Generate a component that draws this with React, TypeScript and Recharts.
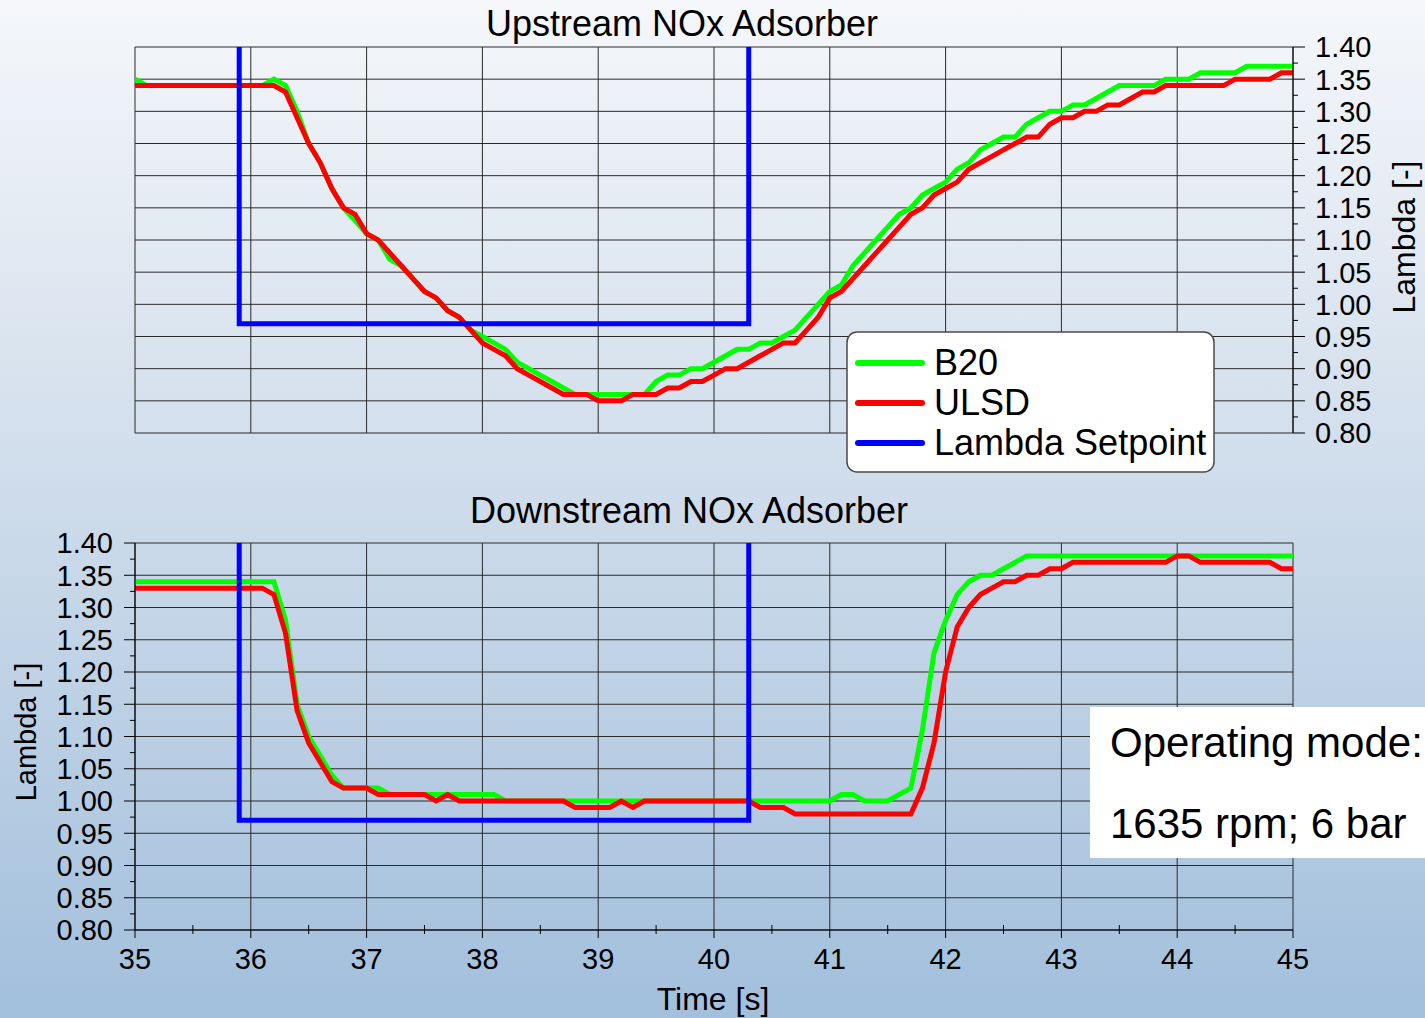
import { LineChart, Line, XAxis, YAxis, CartesianGrid } from 'recharts';

const FONT = '"Liberation Sans", Arial, sans-serif';

// logged lambda signals, one sample every 0.1 s from t = 35 s
const SAMPLE_START = 35;
const SAMPLE_STEP = 0.1;

const TIME_TICKS = ['35', '36', '37', '38', '39', '40', '41', '42', '43', '44', '45'];
const LAMBDA_TICKS = [
  '0.80', '0.85', '0.90', '0.95', '1.00', '1.05', '1.10',
  '1.15', '1.20', '1.25', '1.30', '1.35', '1.40',
];

// upstream adsorber
const UP_B20 = [
  1.35, 1.34, 1.34, 1.34, 1.34, 1.34, 1.34, 1.34, 1.34, 1.34,
  1.34, 1.34, 1.35, 1.34, 1.30, 1.25, 1.22, 1.18, 1.15, 1.13,
  1.11, 1.10, 1.07, 1.06, 1.04, 1.02, 1.01, 0.99, 0.98, 0.96,
  0.95, 0.94, 0.93, 0.91, 0.90, 0.89, 0.88, 0.87, 0.86, 0.86,
  0.86, 0.86, 0.86, 0.86, 0.86, 0.88, 0.89, 0.89, 0.90, 0.90,
  0.91, 0.92, 0.93, 0.93, 0.94, 0.94, 0.95, 0.96, 0.98, 1.00,
  1.02, 1.03, 1.06, 1.08, 1.10, 1.12, 1.14, 1.15, 1.17, 1.18,
  1.19, 1.21, 1.22, 1.24, 1.25, 1.26, 1.26, 1.28, 1.29, 1.30,
  1.30, 1.31, 1.31, 1.32, 1.33, 1.34, 1.34, 1.34, 1.34, 1.35,
  1.35, 1.35, 1.36, 1.36, 1.36, 1.36, 1.37, 1.37, 1.37, 1.37,
  1.37,
];
const UP_ULSD = [
  1.34, 1.34, 1.34, 1.34, 1.34, 1.34, 1.34, 1.34, 1.34, 1.34,
  1.34, 1.34, 1.34, 1.33, 1.29, 1.25, 1.22, 1.18, 1.15, 1.14,
  1.11, 1.10, 1.08, 1.06, 1.04, 1.02, 1.01, 0.99, 0.98, 0.96,
  0.94, 0.93, 0.92, 0.90, 0.89, 0.88, 0.87, 0.86, 0.86, 0.86,
  0.85, 0.85, 0.85, 0.86, 0.86, 0.86, 0.87, 0.87, 0.88, 0.88,
  0.89, 0.90, 0.90, 0.91, 0.92, 0.93, 0.94, 0.94, 0.96, 0.98,
  1.01, 1.02, 1.04, 1.06, 1.08, 1.10, 1.12, 1.14, 1.15, 1.17,
  1.18, 1.19, 1.21, 1.22, 1.23, 1.24, 1.25, 1.26, 1.26, 1.28,
  1.29, 1.29, 1.30, 1.30, 1.31, 1.31, 1.32, 1.33, 1.33, 1.34,
  1.34, 1.34, 1.34, 1.34, 1.34, 1.35, 1.35, 1.35, 1.35, 1.36,
  1.36,
];

// downstream adsorber
const DOWN_B20 = [
  1.34, 1.34, 1.34, 1.34, 1.34, 1.34, 1.34, 1.34, 1.34, 1.34,
  1.34, 1.34, 1.34, 1.28, 1.15, 1.10, 1.07, 1.04, 1.02, 1.02,
  1.02, 1.02, 1.01, 1.01, 1.01, 1.01, 1.01, 1.01, 1.01, 1.01,
  1.01, 1.01, 1.00, 1.00, 1.00, 1.00, 1.00, 1.00, 1.00, 1.00,
  1.00, 1.00, 1.00, 1.00, 1.00, 1.00, 1.00, 1.00, 1.00, 1.00,
  1.00, 1.00, 1.00, 1.00, 1.00, 1.00, 1.00, 1.00, 1.00, 1.00,
  1.00, 1.01, 1.01, 1.00, 1.00, 1.00, 1.01, 1.02, 1.11, 1.23,
  1.28, 1.32, 1.34, 1.35, 1.35, 1.36, 1.37, 1.38, 1.38, 1.38,
  1.38, 1.38, 1.38, 1.38, 1.38, 1.38, 1.38, 1.38, 1.38, 1.38,
  1.38, 1.38, 1.38, 1.38, 1.38, 1.38, 1.38, 1.38, 1.38, 1.38,
  1.38,
];
const DOWN_ULSD = [
  1.33, 1.33, 1.33, 1.33, 1.33, 1.33, 1.33, 1.33, 1.33, 1.33,
  1.33, 1.33, 1.32, 1.26, 1.14, 1.09, 1.06, 1.03, 1.02, 1.02,
  1.02, 1.01, 1.01, 1.01, 1.01, 1.01, 1.00, 1.01, 1.00, 1.00,
  1.00, 1.00, 1.00, 1.00, 1.00, 1.00, 1.00, 1.00, 0.99, 0.99,
  0.99, 0.99, 1.00, 0.99, 1.00, 1.00, 1.00, 1.00, 1.00, 1.00,
  1.00, 1.00, 1.00, 1.00, 0.99, 0.99, 0.99, 0.98, 0.98, 0.98,
  0.98, 0.98, 0.98, 0.98, 0.98, 0.98, 0.98, 0.98, 1.02, 1.09,
  1.20, 1.27, 1.30, 1.32, 1.33, 1.34, 1.34, 1.35, 1.35, 1.36,
  1.36, 1.37, 1.37, 1.37, 1.37, 1.37, 1.37, 1.37, 1.37, 1.37,
  1.38, 1.38, 1.37, 1.37, 1.37, 1.37, 1.37, 1.37, 1.37, 1.36,
  1.36,
];

// rich phase: setpoint drops to 0.97, lean level lies above the plotted range
const SETPOINT_TIME = [35.9, 35.9, 40.3, 40.3];
const SETPOINT_LAMBDA = [1.5, 0.97, 0.97, 1.5];

const SERIES = [
  { key: 'b20', name: 'B20', color: '#00ff00' },
  { key: 'ulsd', name: 'ULSD', color: '#ff0000' },
  { key: 'setpoint', name: 'Lambda Setpoint', color: '#0000ff' },
];

const TIME_MAJOR = TIME_TICKS.map(Number);
const TIME_ALL = TIME_MAJOR.flatMap((t, i) => (i < TIME_MAJOR.length - 1 ? [t, t + 0.5] : [t]));
const LAMBDA_MAJOR = LAMBDA_TICKS.map(Number);
const LAMBDA_ALL = LAMBDA_MAJOR.flatMap((v, i) =>
  i < LAMBDA_MAJOR.length - 1 ? [v, (v + LAMBDA_MAJOR[i + 1]) / 2] : [v],
);

const sampleTime = (i: number) => Math.round((SAMPLE_START + i * SAMPLE_STEP) * 10) / 10;

const upData = UP_B20.map((v, i) => ({ t: sampleTime(i), b20: v, ulsd: UP_ULSD[i] }));
const downData = DOWN_B20.map((v, i) => ({ t: sampleTime(i), b20: v, ulsd: DOWN_ULSD[i] }));
const setpointData = SETPOINT_TIME.map((t, i) => ({ t, setpoint: SETPOINT_LAMBDA[i] }));

const isMajor = (v: number, step: number) => Math.abs(v / step - Math.round(v / step)) < 1e-6;
const lambdaLabel = (v: number) => LAMBDA_TICKS[LAMBDA_MAJOR.findIndex((m) => Math.abs(m - v) < 1e-6)];
const timeLabel = (v: number) => TIME_TICKS[TIME_MAJOR.findIndex((m) => Math.abs(m - v) < 1e-6)];

function RightLambdaTick({ x, y, payload }: any) {
  const major = isMajor(payload.value, 0.05);
  return (
    <g>
      <line x1={x} x2={x + (major ? 12 : 5)} y1={y} y2={y} stroke="#000" strokeWidth={1} />
      {major && (
        <text x={x + 22} y={y} dy="0.36em" textAnchor="start" fontSize={29} fontFamily={FONT} fill="#000">
          {lambdaLabel(payload.value)}
        </text>
      )}
    </g>
  );
}

function LeftLambdaTick({ x, y, payload }: any) {
  const major = isMajor(payload.value, 0.05);
  return (
    <g>
      <line x1={x - (major ? 11 : 5)} x2={x} y1={y} y2={y} stroke="#000" strokeWidth={1} />
      {major && (
        <text x={x - 22} y={y} dy="0.36em" textAnchor="end" fontSize={29} fontFamily={FONT} fill="#000">
          {lambdaLabel(payload.value)}
        </text>
      )}
    </g>
  );
}

function TimeTick({ x, y, payload }: any) {
  const major = isMajor(payload.value, 1);
  return (
    <g>
      {major ? (
        <line x1={x} x2={x} y1={y} y2={y + 8} stroke="#000" strokeWidth={1} />
      ) : (
        <line x1={x} x2={x} y1={y - 5} y2={y + 4} stroke="#000" strokeWidth={1} />
      )}
      {major && (
        <text x={x} y={y + 39} textAnchor="middle" fontSize={29} fontFamily={FONT} fill="#000">
          {timeLabel(payload.value)}
        </text>
      )}
    </g>
  );
}

const GRID = '#2a2a2a';

function seriesLines() {
  return [
    <Line key="b20" dataKey="b20" type="linear" stroke={SERIES[0].color} strokeWidth={5}
      dot={false} activeDot={false} isAnimationActive={false} />,
    <Line key="ulsd" dataKey="ulsd" type="linear" stroke={SERIES[1].color} strokeWidth={5}
      dot={false} activeDot={false} isAnimationActive={false} />,
    <Line key="setpoint" data={setpointData} dataKey="setpoint" type="linear" stroke={SERIES[2].color}
      strokeWidth={5} dot={false} activeDot={false} isAnimationActive={false} />,
  ];
}

export default function App() {
  return (
    <div
      style={{
        position: 'absolute',
        left: 0,
        top: 0,
        width: 1425,
        height: 1018,
        overflow: 'hidden',
        background: 'linear-gradient(to bottom, #f5f7fa 0%, #cddbea 50%, #a2bfdc 100%)',
        fontFamily: FONT,
      }}
    >
      {/* upstream panel, lambda axis on the right */}
      <div style={{ position: 'absolute', left: 0, top: 0 }}>
        <LineChart width={1425} height={470} data={upData} margin={{ top: 47, right: 0, bottom: 37, left: 135 }}>
          <CartesianGrid horizontalValues={LAMBDA_MAJOR} verticalValues={TIME_MAJOR} stroke={GRID} strokeWidth={1} />
          <XAxis type="number" dataKey="t" domain={[35, 45]} ticks={TIME_MAJOR} hide allowDataOverflow />
          <YAxis
            orientation="right"
            width={132}
            type="number"
            domain={[0.8, 1.4]}
            allowDataOverflow
            ticks={LAMBDA_ALL}
            interval={0}
            tickSize={0}
            tickMargin={0}
            tickLine={false}
            axisLine={{ stroke: '#000' }}
            tick={RightLambdaTick}
          />
          {seriesLines()}
        </LineChart>
      </div>

      {/* downstream panel, lambda axis on the left */}
      <div style={{ position: 'absolute', left: 0, top: 480 }}>
        <LineChart width={1425} height={538} data={downData} margin={{ top: 63, right: 132, bottom: 0, left: 0 }}>
          <CartesianGrid horizontalValues={LAMBDA_MAJOR} verticalValues={TIME_MAJOR} stroke={GRID} strokeWidth={1} />
          <XAxis
            type="number"
            dataKey="t"
            domain={[35, 45]}
            allowDataOverflow
            ticks={TIME_ALL}
            interval={0}
            height={88}
            tickSize={0}
            tickMargin={0}
            tickLine={false}
            axisLine={{ stroke: '#000' }}
            tick={TimeTick}
          />
          <YAxis
            orientation="left"
            width={135}
            type="number"
            domain={[0.8, 1.4]}
            allowDataOverflow
            ticks={LAMBDA_ALL}
            interval={0}
            tickSize={0}
            tickMargin={0}
            tickLine={false}
            axisLine={{ stroke: '#000' }}
            tick={LeftLambdaTick}
          />
          {seriesLines()}
        </LineChart>
      </div>

      <svg
        width={1425}
        height={1018}
        style={{ position: 'absolute', left: 0, top: 0, pointerEvents: 'none' }}
        fontFamily={FONT}
      >
        <text x={682} y={36} textAnchor="middle" fontSize={36} fill="#000">Upstream NOx Adsorber</text>
        <text x={689} y={523} textAnchor="middle" fontSize={36} fill="#000">Downstream NOx Adsorber</text>
        <text x={713} y={1010} textAnchor="middle" fontSize={32} fill="#000">Time [s]</text>
        <text transform="translate(1415, 237) rotate(-90)" textAnchor="middle" fontSize={32} fill="#000">Lambda [-]</text>
        <text transform="translate(36, 732) rotate(-90)" textAnchor="middle" fontSize={29} fill="#000">Lambda [-]</text>

        {/* legend */}
        <rect x={847} y={332} width={367} height={140} rx={10} fill="#fff" stroke="#4a4a4a" strokeWidth={1.5} />
        {SERIES.map((s, i) => (
          <g key={s.key}>
            <line x1={858} x2={922} y1={363 + 40 * i} y2={363 + 40 * i} stroke={s.color} strokeWidth={6} strokeLinecap="round" />
            <text x={934} y={375 + 40 * i} fontSize={36} fill="#000">{s.name}</text>
          </g>
        ))}

        {/* operating point note */}
        <rect x={1090} y={707} width={340} height={151} fill="#fff" />
        <text x={1110} y={757} fontSize={42} fill="#000">Operating mode:</text>
        <text x={1110} y={838} fontSize={42} fill="#000">1635 rpm; 6 bar</text>
      </svg>
    </div>
  );
}
